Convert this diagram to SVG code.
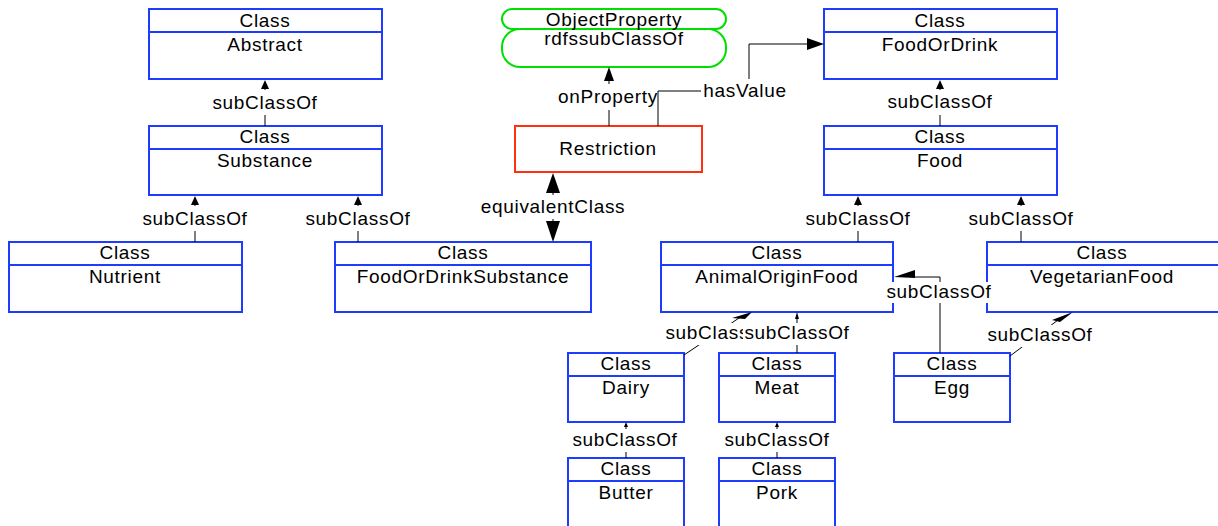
<svg xmlns="http://www.w3.org/2000/svg" width="1218" height="526" viewBox="0 0 1218 526">
  <style>
    text { font-family: "Liberation Sans", Arial, sans-serif; font-size: 19px; letter-spacing: 0.7px; fill: #000; text-anchor: middle; }
    .cls { fill: #fff; stroke: #1e3cff; stroke-width: 2; }
    .div { stroke: #1e3cff; stroke-width: 2; }
    .prop { fill: #fff; stroke: #00e000; stroke-width: 2; }
    .restr { fill: #fff; stroke: #ff3010; stroke-width: 2; }
    .edge { fill: none; stroke: #000; stroke-width: 1; }
    .head { fill: #000; stroke: none; }
    .lbl { fill: #fff; stroke: none; }
  </style>

  <!-- class nodes -->
  <g id="node-abstract">
    <rect class="cls" x="149" y="9" width="233" height="70"/>
    <line class="div" x1="149" y1="32" x2="382" y2="32"/>
    <text x="265" y="27">Class</text>
    <text x="265" y="51">Abstract</text>
  </g>
  <g id="node-substance">
    <rect class="cls" x="149" y="126" width="233" height="69"/>
    <line class="div" x1="149" y1="149" x2="382" y2="149"/>
    <text x="265" y="143">Class</text>
    <text x="265" y="167">Substance</text>
  </g>
  <g id="node-nutrient">
    <rect class="cls" x="9" y="242" width="233" height="70"/>
    <line class="div" x1="9" y1="265" x2="242" y2="265"/>
    <text x="125" y="259">Class</text>
    <text x="125" y="283">Nutrient</text>
  </g>
  <g id="node-foodordrinksubstance">
    <rect class="cls" x="335" y="242" width="256" height="70"/>
    <line class="div" x1="335" y1="265" x2="591" y2="265"/>
    <text x="463" y="259">Class</text>
    <text x="463" y="283">FoodOrDrinkSubstance</text>
  </g>
  <g id="node-objectproperty">
    <rect class="prop" x="502" y="29" width="224" height="38" rx="18" ry="18"/>
    <rect class="prop" x="502" y="9" width="224" height="20" rx="10" ry="10"/>
    <text x="614" y="26">ObjectProperty</text>
    <text x="614" y="45">rdfssubClassOf</text>
  </g>
  <g id="node-restriction">
    <rect class="restr" x="515" y="126" width="187" height="46"/>
    <text x="608" y="155">Restriction</text>
  </g>
  <g id="node-foodordrink">
    <rect class="cls" x="824" y="9" width="233" height="70"/>
    <line class="div" x1="824" y1="32" x2="1057" y2="32"/>
    <text x="940" y="27">Class</text>
    <text x="940" y="51">FoodOrDrink</text>
  </g>
  <g id="node-food">
    <rect class="cls" x="824" y="126" width="233" height="69"/>
    <line class="div" x1="824" y1="149" x2="1057" y2="149"/>
    <text x="940" y="143">Class</text>
    <text x="940" y="167">Food</text>
  </g>
  <g id="node-animaloriginfood">
    <rect class="cls" x="661" y="242" width="232" height="70"/>
    <line class="div" x1="661" y1="265" x2="893" y2="265"/>
    <text x="777" y="259">Class</text>
    <text x="777" y="283">AnimalOriginFood</text>
  </g>
  <g id="node-vegetarianfood">
    <rect class="cls" x="987" y="242" width="240" height="70"/>
    <line class="div" x1="987" y1="265" x2="1227" y2="265"/>
    <text x="1102" y="259">Class</text>
    <text x="1102" y="283">VegetarianFood</text>
  </g>
  <g id="node-dairy">
    <rect class="cls" x="568" y="353" width="116" height="69"/>
    <line class="div" x1="568" y1="376" x2="684" y2="376"/>
    <text x="626" y="370">Class</text>
    <text x="626" y="394">Dairy</text>
  </g>
  <g id="node-meat">
    <rect class="cls" x="719" y="353" width="116" height="69"/>
    <line class="div" x1="719" y1="376" x2="835" y2="376"/>
    <text x="777" y="370">Class</text>
    <text x="777" y="394">Meat</text>
  </g>
  <g id="node-egg">
    <rect class="cls" x="894" y="353" width="116" height="69"/>
    <line class="div" x1="894" y1="376" x2="1010" y2="376"/>
    <text x="952" y="370">Class</text>
    <text x="952" y="394">Egg</text>
  </g>
  <g id="node-butter">
    <rect class="cls" x="568" y="458" width="116" height="80"/>
    <line class="div" x1="568" y1="481" x2="684" y2="481"/>
    <text x="626" y="475">Class</text>
    <text x="626" y="499">Butter</text>
  </g>
  <g id="node-pork">
    <rect class="cls" x="719" y="458" width="116" height="80"/>
    <line class="div" x1="719" y1="481" x2="835" y2="481"/>
    <text x="777" y="475">Class</text>
    <text x="777" y="499">Pork</text>
  </g>

  <!-- connectors, drawn over the nodes so their labels sit on top -->
  <g id="connectors">
    <!-- Substance -> Abstract -->
    <line class="edge" x1="265" y1="126" x2="265" y2="88"/>
    <polygon class="head" points="265,80 261,89 269,89"/>
    <rect class="lbl" x="211" y="90" width="108" height="25"/>
    <text x="265" y="109">subClassOf</text>

    <!-- Nutrient -> Substance -->
    <line class="edge" x1="195" y1="242" x2="195" y2="204"/>
    <polygon class="head" points="195,196 191,205 199,205"/>
    <rect class="lbl" x="141" y="206" width="108" height="25"/>
    <text x="195" y="225">subClassOf</text>

    <!-- FoodOrDrinkSubstance -> Substance -->
    <line class="edge" x1="358" y1="242" x2="358" y2="204"/>
    <polygon class="head" points="358,196 354,205 362,205"/>
    <rect class="lbl" x="304" y="206" width="108" height="25"/>
    <text x="358" y="225">subClassOf</text>

    <!-- FoodOrDrinkSubstance <-> Restriction -->
    <line class="edge" x1="553" y1="190" x2="553" y2="224"/>
    <polygon class="head" points="553,173 546,193 560,193"/>
    <polygon class="head" points="553,242 546,221 560,221"/>
    <rect class="lbl" x="478" y="195" width="150" height="24"/>
    <text x="553" y="213">equivalentClass</text>

    <!-- Restriction onProperty -->
    <line class="edge" x1="609" y1="126" x2="609" y2="80"/>
    <polygon class="head" points="609,67 604,81 614,81"/>
    <rect class="lbl" x="555" y="84" width="108" height="26"/>
    <text x="608" y="103">onProperty</text>

    <!-- Restriction hasValue -->
    <polyline class="edge" points="658,126 658,91 749,91 749,44 810,44"/>
    <polygon class="head" points="824,44 807,38 807,50"/>
    <rect class="lbl" x="701" y="79" width="88" height="24"/>
    <text x="745" y="97">hasValue</text>

    <!-- Food -> FoodOrDrink -->
    <line class="edge" x1="940" y1="126" x2="940" y2="88"/>
    <polygon class="head" points="940,80 936,89 944,89"/>
    <rect class="lbl" x="886" y="90" width="108" height="25"/>
    <text x="940" y="108">subClassOf</text>

    <!-- AnimalOriginFood -> Food -->
    <line class="edge" x1="858" y1="242" x2="858" y2="204"/>
    <polygon class="head" points="858,196 854,205 862,205"/>
    <rect class="lbl" x="804" y="206" width="108" height="25"/>
    <text x="858" y="225">subClassOf</text>

    <!-- VegetarianFood -> Food -->
    <line class="edge" x1="1021" y1="242" x2="1021" y2="204"/>
    <polygon class="head" points="1021,196 1017,205 1025,205"/>
    <rect class="lbl" x="967" y="206" width="108" height="25"/>
    <text x="1021" y="225">subClassOf</text>

    <!-- Egg -> AnimalOriginFood -->
    <polyline class="edge" points="940,353 940,277 914,277"/>
    <polygon class="head" points="894,277 915,270 915,278"/>
    <rect class="lbl" x="885" y="282" width="108" height="21"/>
    <text x="939" y="298">subClassOf</text>

    <!-- Egg -> VegetarianFood -->
    <line class="edge" x1="1010" y1="356" x2="1062" y2="317"/>
    <polygon class="head" points="1073,312 1052,320 1060,322"/>
    <rect class="lbl" x="986" y="325" width="108" height="22"/>
    <text x="1040" y="341">subClassOf</text>

    <!-- Dairy -> AnimalOriginFood -->
    <line class="edge" x1="684" y1="355" x2="742" y2="316"/>
    <polygon class="head" points="752,312 732,318 745,319"/>
    <rect class="lbl" x="664" y="323" width="108" height="22"/>
    <text x="718" y="339">subClassOf</text>

    <!-- Meat -> AnimalOriginFood -->
    <line class="edge" x1="797" y1="353" x2="797" y2="318"/>
    <polygon class="head" points="797,312 795,319 799,319"/>
    <rect class="lbl" x="743" y="323" width="108" height="22"/>
    <text x="797" y="339">subClassOf</text>

    <!-- Butter -> Dairy -->
    <line class="edge" x1="626" y1="458" x2="626" y2="426"/>
    <polygon class="head" points="626,422 624,427 628,427"/>
    <rect class="lbl" x="572" y="429" width="108" height="23"/>
    <text x="625" y="446">subClassOf</text>

    <!-- Pork -> Meat -->
    <line class="edge" x1="777" y1="458" x2="777" y2="426"/>
    <polygon class="head" points="777,422 775,427 779,427"/>
    <rect class="lbl" x="723" y="429" width="108" height="23"/>
    <text x="777" y="446">subClassOf</text>
  </g>
</svg>
